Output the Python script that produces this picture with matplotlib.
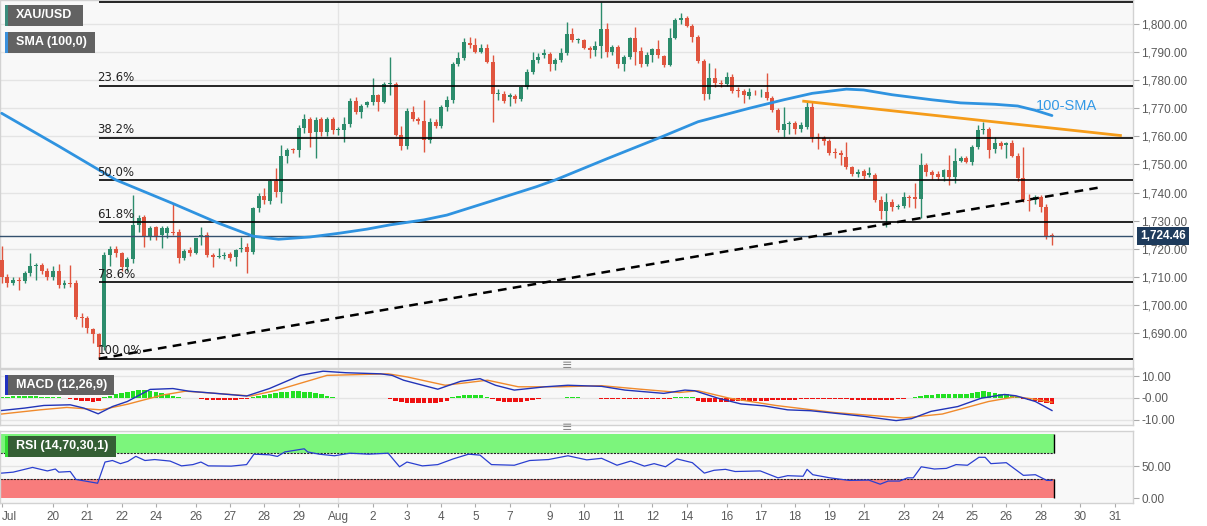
import matplotlib
matplotlib.use("Agg")
import matplotlib.pyplot as plt
from matplotlib.patches import Rectangle
import numpy as np

plt.rcParams['font.family'] = ['Liberation Sans', 'DejaVu Sans']

# 4h candles, index 0..184  (open, high, low, close)
opens = [1716.0, 1710.0, 1708.0, 1709.0, 1708.5, 1711.5, 1714.0, 1714.2, 1712.2, 1710.1,
         1712.2, 1707.1, 1707.9, 1707.7, 1695.8, 1695.3, 1691.4, 1689.7, 1685.2, 1717.8,
         1720.0, 1718.5, 1713.6, 1716.3, 1728.5, 1731.2, 1724.3, 1727.6, 1724.9, 1725.5,
         1726.1, 1726.1, 1716.6, 1719.6, 1718.6, 1724.3, 1724.9, 1717.8, 1717.0, 1717.4,
         1718.0, 1717.0, 1719.8, 1720.7, 1719.0, 1734.4, 1738.8, 1737.0, 1744.2, 1740.3,
         1753.0, 1755.5, 1755.0, 1762.9, 1766.3, 1761.7, 1766.0, 1761.7, 1766.0, 1762.3,
         1762.3, 1764.3, 1772.6, 1768.8, 1771.0, 1772.2, 1774.6, 1772.3, 1778.5, 1778.5,
         1760.5, 1756.6, 1768.7, 1766.2, 1765.6, 1758.7, 1765.2, 1763.7, 1770.6, 1773.0,
         1785.8, 1787.8, 1793.3, 1792.5, 1790.1, 1791.3, 1786.6, 1775.0, 1775.1, 1774.1,
         1774.4, 1773.4, 1777.7, 1783.0, 1787.2, 1789.0, 1789.3, 1785.8, 1787.2, 1789.6,
         1796.3, 1794.1, 1794.1, 1791.4, 1790.7, 1792.3, 1798.1, 1790.1, 1791.7, 1785.8,
         1788.1, 1794.9, 1790.5, 1785.8, 1789.0, 1791.0, 1788.6, 1785.4, 1794.9, 1801.4,
         1802.0, 1799.3, 1795.5, 1786.9, 1775.1, 1780.7, 1779.1, 1778.6, 1781.2, 1776.3,
         1776.3, 1774.4, 1775.9, 1775.6, 1775.9, 1773.6, 1769.4, 1762.3, 1764.4, 1764.9,
         1762.5, 1763.2, 1770.6, 1759.9, 1759.3, 1758.5, 1754.4, 1754.2, 1752.8, 1749.0,
         1746.6, 1747.7, 1746.3, 1746.3, 1737.4, 1733.6, 1736.8, 1735.0, 1735.2, 1738.3,
         1738.3, 1737.8, 1749.8, 1747.4, 1746.6, 1745.4, 1748.0, 1745.4, 1751.4, 1752.2,
         1751.0, 1756.3, 1762.3, 1762.5, 1755.4, 1757.5, 1756.9, 1757.5, 1753.0, 1745.1,
         1737.4, 1737.5, 1738.3, 1735.0, 1724.6]
highs = [1721.0, 1711.0, 1710.0, 1710.0, 1712.0, 1718.4, 1715.0, 1715.0, 1713.0, 1714.0,
         1714.5, 1709.0, 1714.2, 1709.0, 1697.0, 1696.0, 1692.0, 1690.0, 1719.0, 1721.0,
         1721.0, 1719.0, 1717.0, 1739.1, 1732.0, 1732.0, 1728.0, 1728.0, 1728.0, 1728.0,
         1736.2, 1727.0, 1720.0, 1720.5, 1724.0, 1727.9, 1726.0, 1718.5, 1720.2, 1719.0,
         1719.0, 1720.0, 1724.3, 1722.0, 1735.0, 1740.0, 1741.5, 1745.0, 1748.6, 1756.9,
         1756.0, 1756.0, 1764.0, 1767.9, 1767.0, 1767.0, 1767.0, 1767.0, 1767.0, 1763.5,
         1767.0, 1773.5, 1774.0, 1771.5, 1772.5, 1780.7, 1775.0, 1779.5, 1788.1, 1779.5,
         1763.7, 1770.0, 1770.8, 1767.0, 1773.0, 1766.4, 1766.0, 1771.0, 1774.5, 1786.5,
         1789.9, 1794.9, 1795.5, 1795.0, 1792.9, 1792.9, 1789.0, 1777.0, 1776.0, 1775.5,
         1775.0, 1778.0, 1784.0, 1789.9, 1789.8, 1790.9, 1790.0, 1788.0, 1791.3, 1800.6,
         1798.5, 1795.0, 1794.5, 1792.0, 1794.0, 1807.9, 1800.2, 1792.5, 1792.5, 1789.0,
         1795.5, 1799.0, 1791.9, 1790.0, 1791.5, 1794.1, 1789.0, 1798.5, 1802.0, 1804.0,
         1802.8, 1800.0, 1796.0, 1787.5, 1786.2, 1784.2, 1780.0, 1783.0, 1782.0, 1777.7,
         1777.0, 1777.2, 1776.5, 1777.0, 1782.7, 1774.5, 1770.0, 1770.4, 1765.5, 1765.5,
         1765.0, 1772.3, 1772.3, 1761.1, 1760.0, 1759.0, 1755.8, 1755.0, 1758.1, 1749.5,
         1748.5, 1748.5, 1749.2, 1747.0, 1738.8, 1740.0, 1737.7, 1736.0, 1740.3, 1739.1,
         1743.3, 1754.0, 1750.5, 1748.0, 1747.5, 1748.5, 1753.4, 1755.8, 1753.0, 1753.0,
         1757.0, 1764.1, 1765.2, 1763.5, 1759.9, 1758.5, 1758.0, 1758.7, 1754.0, 1756.1,
         1739.5, 1739.3, 1739.0, 1736.0, 1725.5]
lows = [1708.0, 1706.5, 1707.0, 1705.3, 1708.0, 1710.5, 1709.0, 1711.0, 1709.0, 1709.0,
        1706.0, 1706.0, 1706.5, 1695.0, 1692.3, 1690.0, 1686.4, 1680.9, 1684.0, 1714.0,
        1717.0, 1712.0, 1712.0, 1715.0, 1726.0, 1720.7, 1723.0, 1723.0, 1720.2, 1724.0,
        1725.0, 1714.8, 1716.0, 1717.5, 1718.0, 1721.4, 1717.0, 1713.6, 1716.6, 1716.5,
        1715.5, 1713.9, 1719.0, 1711.5, 1718.0, 1733.0, 1736.0, 1736.0, 1738.5, 1736.2,
        1750.4, 1754.0, 1752.8, 1761.1, 1756.3, 1752.2, 1760.0, 1760.0, 1761.0, 1760.5,
        1758.1, 1763.5, 1768.0, 1766.4, 1770.5, 1771.2, 1769.1, 1772.0, 1774.7, 1760.0,
        1755.2, 1755.4, 1765.5, 1764.5, 1754.6, 1757.5, 1763.0, 1763.0, 1769.0, 1772.0,
        1785.0, 1787.0, 1791.5, 1789.5, 1789.5, 1786.0, 1765.2, 1773.0, 1772.0, 1770.8,
        1772.0, 1772.5, 1777.0, 1782.0, 1786.0, 1788.0, 1783.2, 1783.6, 1786.5, 1789.0,
        1793.5, 1793.2, 1791.0, 1787.8, 1788.5, 1787.8, 1788.1, 1789.0, 1784.2, 1783.4,
        1787.5, 1785.4, 1784.8, 1785.0, 1786.5, 1788.0, 1784.8, 1785.0, 1794.5, 1800.0,
        1798.8, 1793.7, 1786.0, 1773.0, 1773.2, 1777.5, 1777.5, 1778.0, 1775.5, 1774.1,
        1771.8, 1773.3, 1774.8, 1774.0, 1773.0, 1768.5, 1761.7, 1759.9, 1761.0, 1761.0,
        1761.5, 1762.5, 1758.1, 1755.4, 1757.0, 1753.5, 1752.2, 1749.8, 1748.5, 1745.8,
        1745.5, 1745.0, 1745.5, 1736.8, 1730.5, 1727.9, 1733.5, 1734.0, 1734.5, 1734.8,
        1734.4, 1730.9, 1746.0, 1745.0, 1744.5, 1744.0, 1742.7, 1743.3, 1750.8, 1750.5,
        1749.8, 1755.5, 1761.0, 1752.2, 1754.0, 1755.5, 1752.2, 1752.5, 1744.0, 1736.8,
        1733.5, 1736.0, 1733.0, 1723.5, 1721.5]
closes = [1710.0, 1708.0, 1709.0, 1708.5, 1711.5, 1714.0, 1714.2, 1712.2, 1710.1, 1712.2,
          1707.1, 1707.9, 1707.6, 1695.8, 1695.3, 1691.7, 1689.7, 1685.2, 1717.8, 1720.0,
          1718.5, 1713.4, 1716.3, 1728.5, 1730.9, 1724.3, 1727.3, 1724.6, 1727.3, 1727.3,
          1725.5, 1716.6, 1719.3, 1718.6, 1723.7, 1724.9, 1717.8, 1717.0, 1717.4, 1717.8,
          1716.8, 1719.6, 1720.4, 1718.9, 1734.4, 1738.8, 1737.3, 1744.2, 1740.3, 1753.0,
          1755.2, 1755.0, 1762.9, 1766.3, 1761.3, 1765.8, 1761.7, 1766.0, 1762.3, 1762.6,
          1764.3, 1772.6, 1768.7, 1770.8, 1772.1, 1774.6, 1772.3, 1778.5, 1778.8, 1760.5,
          1756.6, 1769.0, 1766.2, 1765.6, 1758.7, 1765.2, 1763.7, 1770.6, 1773.0, 1785.8,
          1787.8, 1793.7, 1792.5, 1790.1, 1791.3, 1786.6, 1775.1, 1775.5, 1772.7, 1774.7,
          1773.4, 1777.7, 1783.0, 1787.2, 1788.4, 1789.6, 1785.8, 1787.2, 1789.6, 1796.3,
          1794.1, 1794.3, 1791.4, 1790.7, 1792.3, 1798.1, 1790.1, 1791.7, 1785.8, 1788.1,
          1794.9, 1790.1, 1785.8, 1789.0, 1791.0, 1789.0, 1785.4, 1794.9, 1801.4, 1802.0,
          1799.3, 1795.5, 1786.9, 1775.1, 1780.7, 1779.1, 1778.5, 1781.2, 1776.3, 1776.1,
          1774.7, 1775.9, 1775.6, 1775.9, 1773.6, 1769.4, 1762.3, 1764.4, 1764.8, 1762.5,
          1764.0, 1770.6, 1759.9, 1759.3, 1758.5, 1754.2, 1754.0, 1753.4, 1749.2, 1746.6,
          1747.4, 1745.9, 1746.9, 1737.4, 1733.6, 1736.8, 1735.0, 1735.3, 1738.3, 1738.1,
          1737.8, 1749.8, 1747.4, 1746.3, 1745.4, 1748.0, 1745.4, 1751.4, 1752.2, 1751.0,
          1756.3, 1762.3, 1762.6, 1755.2, 1757.5, 1756.6, 1757.5, 1753.0, 1745.1, 1737.4,
          1737.0, 1738.5, 1735.0, 1724.6, 1724.46]

# 100-period SMA
sma_idx = [0, 10, 20, 30, 38, 44, 48.5, 54, 59, 64, 68, 74, 78, 85.5, 93.7, 97, 106, 115,
           122, 131, 137, 142, 148, 151, 156, 163, 168, 174, 178, 181, 184]
sma_val = [1768.2, 1756.5, 1744.5, 1736.1, 1729.1, 1724.5, 1723.4, 1724.2, 1725.5, 1727.0,
           1728.5, 1730.3, 1732.0, 1736.8, 1742.1, 1744.5, 1752.0, 1759.3,
           1765.2, 1770.0, 1773.0, 1775.3, 1776.8, 1776.5, 1774.8, 1773.0, 1771.9, 1771.4,
           1770.8, 1769.3, 1767.4]

# Fibonacci retracement of the 1680.9 -> 1807.9 swing
fib_low, fib_high = 1680.9, 1807.9
fib_levels = [0.236, 0.382, 0.5, 0.618, 0.786, 1.0]
fib_labels = ['23.6%', '38.2%', '50.0%', '61.8%', '78.6%', '100.0%']
last_price = 1724.46

# trend lines (candle index, price)
resist_x, resist_y = [140.5, 196], [1772.5, 1760.3]
support_x, support_y = [17, 192], [1680.9, 1741.7]

# MACD (12,26,9)
macd_idx = [0, 4, 7.4, 12, 14.4, 16.9, 19.4, 22, 26, 30, 32.8, 37.5, 42.9, 46.9, 52.3, 56.3,
            60.3, 66.4, 68.4, 70.4, 76.4, 80.4, 83.8, 86.5, 89.8, 95.2, 99.2, 105.1, 109.2,
            116, 119.7, 121.4, 125.5, 129.5, 133.6, 137.7, 141.7, 145.8, 151.2, 156.7, 159.4,
            162.8, 167.5, 171.6, 175.7, 177.7, 181.1, 184]
macd_val = [-5.7, -4.6, -3.4, -3.1, -4.6, -7.2, -3.9, -1.6, 3.9, 4.3, 3.1, 2.1, 0.9, 4.3, 10.3,
            12.2, 11.5, 11.0, 10.3, 8.1, 4.0, 7.6, 8.8, 5.8, 3.6, 5.1, 5.8, 5.3, 3.6,
            2.1, 3.6, 3.3, -0.1, -2.7, -3.6, -5.4, -5.8, -6.9, -8.4, -10.3, -9.4,
            -6.1, -3.9, -0.1, 1.6, 1.0, -1.6, -5.7]
signal_idx = [0, 6.7, 11.4, 17.4, 22.1, 28.1, 32.2, 40.2, 43.6, 48.3, 57, 67.7, 71, 77.7,
              85.1, 90.5, 97.9, 105.1, 111.9, 118.7, 122, 127.5, 135.6, 145.8, 158, 164.8,
              172.9, 177.7, 181.1, 184]
signal_val = [-7.3, -5.4, -4.3, -5.4, -2.8, 1.3, 3.1, 1.6, 0.9, 3.6, 10.3, 11.0, 9.6, 5.8,
              8.1, 5.1, 5.1, 5.6, 4.0, 2.5, 3.3, -0.1, -3.4, -6.6, -9.1, -7.3,
              -1.6, 0.6, -0.6, -1.9]
hist_val = [0.6, 0.6, 0.7, 0.7, 0.7, 0.7, 0.7, 0.6, 0.6, 0.5, 0.4, 0.2,
            -0.4, -0.9, -1.3, -1.5, -1.8, -1.2,
            0.4, 1.0, 1.6, 2.2, 2.8, 3.4, 3.7, 3.5, 3.2, 2.6, 2.1, 1.6, 1.0, 0.5,
            0.1, -0.1, -0.2,
            -0.6, -0.8, -0.8, -0.8, -0.8, -0.7, -0.7, -0.6, -0.4,
            0.4, 1.0, 1.5, 2.0, 2.4, 2.7, 2.9, 3.0, 3.0, 2.9, 2.6, 2.2, 1.6, 1.0, 0.5,
            0.2, 0.2, 0.1, 0.1, -0.1, -0.1, 0.1, 0.1, -0.2, -0.3,
            -1.2, -1.8, -2.2, -2.4, -2.5, -2.5, -2.4, -2.2, -1.8, -1.2,
            0.4, 1.0, 1.4, 1.5, 1.5, 1.2, 0.6,
            -0.6, -1.2, -1.6, -1.8, -1.8, -1.6, -1.2, -0.8, -0.3,
            0.1, 0.1, 0.1, 0.2, 0.3, 0.3, 0.3, 0.2, 0.1, 0.05,
            -0.4, -0.4, -0.4, -0.4, -0.4, -0.4, -0.4, -0.4, -0.4, -0.4, -0.4, -0.4, -0.4,
            0.3, 0.3, 0.3, 0.3,
            -1.2, -1.6, -1.8, -1.8, -1.7, -1.6, -1.5, -1.4, -1.4, -1.3, -1.3, -1.2, -1.2,
            -1.1, -1.0, -1.0, -0.9, -0.9,
            -0.6, -0.6, -0.6, -0.6, -0.6, -0.6, -0.6, -0.6, -0.6, -0.7, -0.7, -0.7, -0.8,
            -0.8, -0.8, -0.8, -0.7, -0.6, -0.3, -0.1,
            0.3, 0.8, 1.3, 1.5, 1.6, 1.6, 1.7, 1.7, 1.8, 1.9, 2.2, 2.6, 3.0, 2.8, 2.4, 2.0,
            1.6, 1.2, 0.6,
            -0.4, -1.0, -1.5, -1.9, -2.3, -2.7]

# RSI (14)
rsi_idx = [0, 2, 5.4, 8, 9.4, 10, 12, 13, 16.8, 18.1, 19.4, 20.8, 22.1, 23.5, 25.1, 26.8,
           29.5, 31.5, 33.5, 34.9, 36.2, 40.2, 42.9, 44.2, 46.9, 48.3, 49.6, 53, 53.6, 55.6,
           58.3, 61, 64.3, 67.7, 69.7, 71, 73.7, 76.4, 79.1, 81.8, 83.8, 85.8, 89.8, 92.5,
           95.8, 99.2, 102.5, 105.1, 107.8, 110.2, 112.6, 114.3, 116.3, 118.3, 121, 123.1,
           124.8, 126.8, 128.5, 132.9, 136, 137.7, 140.4, 141.1, 142.1, 145.1, 148.5, 151.9,
           153.9, 155.3, 157.3, 158.7, 159.7, 161.1, 163.4, 165.5, 167.2, 169.2, 171.2,
           172.3, 173.3, 176, 179, 181.1, 183.1, 184]
rsi_val = [38.9, 40.4, 47.8, 42.3, 45.3, 40.4, 41.4, 29.0, 23.1, 56.2, 58.6, 53.7, 57.2, 65.1,
           58.6, 60.1, 57.7, 50.2, 52.2, 56.2, 50.2, 49.8, 52.2, 68.5, 67.5, 65.0, 72.0,
           76.9, 72.0, 68.5, 66.0, 70.0, 68.5, 70.0, 48.8, 56.2, 50.2, 52.2, 61.1, 68.5,
           67.0, 52.2, 51.2, 58.6, 60.1, 66.0, 59.6, 62.0, 51.2, 57.7, 49.8, 53.7, 48.8,
           61.1, 55.2, 38.9, 43.3, 44.8, 41.4, 42.3, 31.5, 34.9, 34.0, 44.8, 36.4, 31.5,
           27.5, 28.0, 21.6, 26.5, 26.5, 31.5, 31.5, 48.8, 45.3, 46.3, 52.2, 51.2, 63.6,
           63.6, 53.7, 55.2, 35.4, 36.4, 27.5, 27.5]

tick_pos = [0, 9, 15, 21, 27, 34, 40, 46, 52, 59, 65, 71, 77, 83, 89, 96, 102, 108, 114,
            120, 127, 133, 139, 145, 151, 158, 164, 170, 176, 182, 189, 195]
tick_lab = ['Jul', '20', '21', '22', '24', '26', '27', '28', '29', 'Aug', '2', '3', '4',
            '5', '7', '9', '10', '11', '12', '14', '16', '17', '18', '19', '21', '23', '24',
            '25', '26', '28', '30', '31']

W, H = 1207, 526
GREEN, RED = '#2c8c6c', '#e0553f'
BG = '#f8f8f8'
GRID = '#e4e4e4'
TXT = '#5a5a5a'

fig = plt.figure(figsize=(W / 100, H / 100), dpi=100)
fig.patch.set_facecolor('white')

def fax(y0, y1):
    return fig.add_axes([0, 1 - y1 / H, 1133 / W, (y1 - y0) / H])

ax = fax(0, 368)
axm = fax(369, 425)
axr = fax(431, 503)
xlim = (-0.3, 198.2)

for a in (ax, axm, axr):
    a.set_facecolor(BG)
    a.set_xlim(*xlim)
    a.yaxis.tick_right()
    a.tick_params(axis='y', colors='#aaaaaa', labelcolor=TXT, labelsize=8.5,
                  length=4, pad=2, direction='out')
    a.tick_params(axis='x', colors='#aaaaaa', labelcolor=TXT, labelsize=8.5, length=3)
    for s in a.spines.values():
        s.set_color('#d2d2d2')
        s.set_linewidth(1)
    a.axvline(59, color=GRID, lw=1, zorder=0)
    a.set_xticks(tick_pos)
    a.set_xticklabels([])

# ---- main price panel ----
idx = np.arange(len(closes))
o, h, l, c = map(np.array, (opens, highs, lows, closes))
cols = [GREEN if cc >= oo else RED for oo, cc in zip(o, c)]
ax.set_ylim(1677.6, 1808.5)
ax.set_yticks(np.arange(1690, 1801, 10))
ax.set_yticklabels([f'{v:,.2f}' for v in np.arange(1690, 1801, 10)])
ax.tick_params(axis='x', length=0)
ax.grid(axis='y', color=GRID, lw=1, zorder=0)

ax.vlines(idx, l, h, colors=cols, lw=1, zorder=3)
ax.bar(idx, np.maximum(np.abs(c - o), 0.35), bottom=np.minimum(o, c), width=0.7,
       color=cols, lw=0, zorder=3)

ax.plot(sma_idx, sma_val, color='#2f93e0', lw=2, zorder=5, solid_capstyle='round')
ax.text(181.2, 1770.7, '100-SMA', color='#3399e6', fontsize=10.5, va='center', zorder=6)

ax.hlines(fib_high, 17, xlim[1], color='black', lw=1.2, zorder=4)
for lev, lab in zip(fib_levels, fib_labels):
    p = fib_high - lev * (fib_high - fib_low)
    ax.hlines(p, 17, xlim[1], color='black', lw=1.2, zorder=4)
    ax.text(16.8, p + 0.6, lab, fontsize=8.5, color='#222222', va='bottom', ha='left',
            family='DejaVu Sans', zorder=6)

ax.axhline(last_price, color='#34506e', lw=1, zorder=4)
ax.annotate(f'{last_price:,.2f}', xy=(1.0, last_price), xycoords=('axes fraction', 'data'),
            xytext=(5, 0), textcoords='offset points', ha='left', va='center',
            color='white', fontsize=8.5, weight='bold', annotation_clip=False, zorder=10,
            bbox=dict(boxstyle='square,pad=0.25', fc='#1e3b5c', ec='none'))

ax.plot(resist_x, resist_y, color='#f59c1a', lw=2, zorder=5)
ax.plot(support_x, support_y, color='black', lw=1.8, ls=(0, (3.5, 2.5)), zorder=5)

# ---- MACD panel ----
axm.set_ylim(-12.3, 13.2)
axm.set_yticks([10, 0, -10])
axm.set_yticklabels(['10.00', '-0.00', '-10.00'])
axm.grid(axis='y', color=GRID, lw=1, zorder=0)
hv = np.array(hist_val)
axm.bar(idx, hv, width=0.8, color=['#22e022' if v >= 0 else '#ee1111' for v in hv],
        lw=0, zorder=2)
axm.plot(signal_idx, signal_val, color='#f08a2c', lw=1, zorder=3)
axm.plot(macd_idx, macd_val, color='#2234b8', lw=1, zorder=4)
axm.tick_params(axis='x', length=0)

# ---- RSI panel ----
axr.set_ylim(-7.8, 104.7)
axr.set_yticks([0, 50])
axr.set_yticklabels(['0.00', '50.00'])
axr.axhline(50, color=GRID, lw=1, zorder=0)
last = idx[-1] + 0.4
axr.add_patch(Rectangle((xlim[0], 70), last - xlim[0], 30, fc='#7cf57c', ec='none', zorder=1))
axr.add_patch(Rectangle((xlim[0], 0), last - xlim[0], 30, fc='#f87c7c', ec='none', zorder=1))
axr.hlines([70, 30], xlim[0], last, color='#222222', lw=0.8, ls=(0, (2, 1)), zorder=2)
axr.vlines(last, 0, 30, color='black', lw=1, zorder=2)
axr.vlines(last, 70, 100, color='black', lw=1, zorder=2)
axr.plot(rsi_idx, rsi_val, color='#2a3fd0', lw=0.9, zorder=3)
axr.set_xticklabels(tick_lab)
axr.tick_params(axis='x', pad=3)
axr.get_xticklabels()[0].set_ha('left')

# ---- indicator legend boxes ----
def label_box(x0, y0, x1, y1, text, fc, stripe):
    fig.add_artist(Rectangle((x0 / W, 1 - y1 / H), (x1 - x0) / W, (y1 - y0) / H,
                             transform=fig.transFigure, fc=fc, ec='none', zorder=20))
    fig.add_artist(Rectangle((x0 / W, 1 - y1 / H), 2.5 / W, (y1 - y0) / H,
                             transform=fig.transFigure, fc=stripe, ec='none', zorder=21))
    fig.text((x0 + 11) / W, 1 - (y0 + y1) / 2 / H, text, color='white', fontsize=9,
             weight='bold', va='center', ha='left', zorder=22)

label_box(5, 5, 83, 26, 'XAU/USD', '#626262', '#3a8c7c')
label_box(5, 32, 95, 53, 'SMA (100,0)', '#626262', '#3a90dc')
label_box(5, 375, 114, 395, 'MACD (12,26,9)', '#626262', '#2030c0')
label_box(5, 436, 116, 457, 'RSI (14,70,30,1)', '#355f35', '#33dd33')

for yy in (366, 428):
    fig.text(567 / W, 1 - yy / H, '\u2261', color='#888888', fontsize=9,
             ha='center', va='center', family='DejaVu Sans')

fig.savefig('out.png', dpi=100, facecolor='white')
